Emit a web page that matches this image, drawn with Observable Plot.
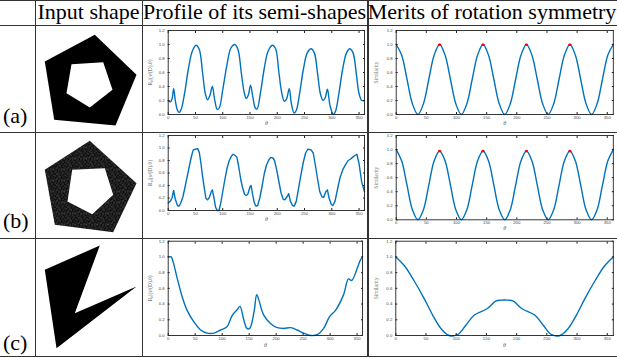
<!DOCTYPE html>
<html><head><meta charset="utf-8">
<script src="https://cdn.jsdelivr.net/npm/d3@7"></script>
<script src="https://cdn.jsdelivr.net/npm/@observablehq/plot@0.6"></script>
<style>
body{margin:0;background:#fff;}
#page{position:relative;width:617px;height:358px;overflow:hidden;font-family:"Liberation Serif","Times New Roman",serif;color:#000;}
.hl{position:absolute;left:0;width:617px;height:1.3px;background:#333;}
.vl{position:absolute;top:0;width:1.3px;height:357px;background:#333;}
.hdr{position:absolute;top:1px;font-size:22px;line-height:22px;white-space:nowrap;text-align:center;}
.lab{position:absolute;left:3px;font-size:22px;line-height:22px;}
.chart{position:absolute;}
.chart svg{overflow:visible;}
.chart [aria-label="x-axis label"] text{font-size:6px;font-style:italic;font-family:"Liberation Serif",serif;fill:#555;}
.chart [aria-label="y-axis label"] text{font-size:5.5px;font-family:"Liberation Serif",serif;fill:#777;}
</style></head>
<body>
<svg width="0" height="0" style="position:absolute">
 <defs>
  <pattern id="speckle" width="11" height="11" patternUnits="userSpaceOnUse">
   <rect width="11" height="11" fill="#0a0a0a"/>
   <g fill="#fff">
    <rect x="0.3" y="0.4" width="0.7" height="0.7"/>
    <rect x="3.1" y="1.1" width="0.6" height="0.6"/>
    <rect x="5.6" y="0.2" width="0.7" height="0.7"/>
    <rect x="8.2" y="0.9" width="0.6" height="0.6"/>
    <rect x="10.1" y="2.0" width="0.6" height="0.6"/>
    <rect x="1.7" y="2.6" width="0.6" height="0.6"/>
    <rect x="4.4" y="3.0" width="0.7" height="0.7"/>
    <rect x="7.0" y="2.7" width="0.6" height="0.6"/>
    <rect x="9.1" y="4.1" width="0.7" height="0.7"/>
    <rect x="0.2" y="4.6" width="0.7" height="0.7"/>
    <rect x="2.8" y="5.0" width="0.6" height="0.6"/>
    <rect x="5.9" y="5.3" width="0.6" height="0.6"/>
    <rect x="7.6" y="6.2" width="0.7" height="0.7"/>
    <rect x="10.3" y="6.7" width="0.6" height="0.6"/>
    <rect x="1.3" y="7.1" width="0.7" height="0.7"/>
    <rect x="4.1" y="7.6" width="0.6" height="0.6"/>
    <rect x="6.5" y="8.6" width="0.6" height="0.6"/>
    <rect x="9.0" y="8.9" width="0.7" height="0.7"/>
    <rect x="0.6" y="9.7" width="0.6" height="0.6"/>
    <rect x="3.0" y="9.9" width="0.7" height="0.7"/>
    <rect x="5.2" y="10.3" width="0.6" height="0.6"/>
    <rect x="8.1" y="10.4" width="0.5" height="0.5"/>
   </g>
   <g fill="#999">
    <rect x="2.2" y="0.1" width="0.5" height="0.5"/>
    <rect x="6.4" y="1.9" width="0.5" height="0.5"/>
    <rect x="8.6" y="3.2" width="0.5" height="0.5"/>
    <rect x="3.6" y="4.2" width="0.5" height="0.5"/>
    <rect x="0.8" y="6.0" width="0.5" height="0.5"/>
    <rect x="5.1" y="6.6" width="0.5" height="0.5"/>
    <rect x="9.9" y="8.0" width="0.5" height="0.5"/>
    <rect x="2.1" y="8.7" width="0.5" height="0.5"/>
    <rect x="7.3" y="9.6" width="0.5" height="0.5"/>
   </g>
  </pattern>
 </defs>
</svg>
<div id="page">
 <div class="hl" style="top:0"></div>
 <div class="hl" style="top:25px"></div>
 <div class="hl" style="top:132px"></div>
 <div class="hl" style="top:237.5px"></div>
 <div class="hl" style="top:356px"></div>
 <div class="vl" style="left:35px"></div>
 <div class="vl" style="left:141.5px"></div>
 <div class="vl" style="left:367px;width:1.8px"></div>
 <div class="hdr" style="left:35px;width:107px">Input shape</div>
 <div class="hdr" style="left:142px;width:225px">Profile of its semi-shapes</div>
 <div class="hdr" style="left:367px;width:250px">Merits of rotation symmetry</div>
 <div class="lab" style="top:105px">(a)</div>
 <div class="lab" style="top:210px">(b)</div>
 <div class="lab" style="top:332px">(c)</div>
 <div class="chart" id="shapes" style="left:36px;top:26px"></div>
 <div class="chart" id="pa"></div>
 <div class="chart" id="ma"></div>
 <div class="chart" id="pb"></div>
 <div class="chart" id="mb"></div>
 <div class="chart" id="pc"></div>
 <div class="chart" id="mc"></div>
</div>
<script>
// ---------- tick labels ----------
const xTicks = [0, 50, 100, 150, 200, 250, 300, 350];
const yTicks = [0, 0.2, 0.4, 0.6, 0.8, 1, 1.2];

// ---------- input shapes (vertices, cell units) ----------
const shapeA_outerX = [58.3, 100, 79, 17.7, 8.3, 58.3];
const shapeA_outerY = [8.3, 48.3, 99, 93.3, 35, 8.3];
const shapeA_innerX = [35, 66.7, 76, 53.3, 30, 35];
const shapeA_innerY = [37.7, 35.7, 63.3, 81, 66.7, 37.7];
const shapeB_outerX = [53.3, 100, 76.7, 18.3, 8.3, 53.3];
const shapeB_outerY = [114.3, 156.7, 205.7, 198.3, 143.3, 114.3];
const shapeB_innerX = [35.7, 68.3, 76.7, 55.7, 31, 35.7];
const shapeB_innerY = [143.3, 141.7, 168.3, 187.7, 175, 143.3];
const shapeC_X = [63.3, 38.3, 100, 20, 8.3, 63.3];
const shapeC_Y = [219, 286.7, 260, 321.7, 243.3, 219];

// ---------- (a) profile ----------
const profA_theta = [0,4,7,10,13,17,20,24,30,37,44,51,57,63,68,72,76,81,85,90,94,100,108,115,122,128,134,139,143,147,151,155,160,163,169,176,183,191,197,203,208,213,217,222,226,231,235,241,248,255,262,268,274,279,284,288,292,297,303,307,313,320,327,333,339,345,350,355,360];
const profA_value = [0.2,0.18,0.22,0.37,0.2,0.06,0.03,0.08,0.3,0.65,0.9,0.99,0.93,0.6,0.3,0.21,0.26,0.4,0.22,0.07,0.1,0.35,0.72,0.95,1.0,0.93,0.6,0.33,0.23,0.28,0.42,0.26,0.09,0.08,0.3,0.65,0.9,0.99,0.94,0.6,0.32,0.19,0.22,0.37,0.15,0.02,0.06,0.3,0.65,0.88,0.94,0.88,0.58,0.3,0.2,0.24,0.36,0.12,0.0,0.05,0.3,0.65,0.88,0.94,0.88,0.58,0.3,0.2,0.2];

// ---------- (a) merits ----------
const meritA_theta = [0,9,18,27,36,45,54,63,72,81,90,99,108,117,126,135,144,153,162,171,180,189,198,207,216,225,234,243,252,261,270,279,288,297,306,315,324,333,342,351,360];
const meritA_value = [1,0.85,0.5,0.15,0,0.15,0.5,0.85,1,0.85,0.5,0.15,0,0.15,0.5,0.85,1,0.85,0.5,0.15,0,0.15,0.5,0.85,1,0.85,0.5,0.15,0,0.15,0.5,0.85,1,0.85,0.5,0.15,0,0.15,0.5,0.85,1];
const meritA_peakTheta = [71, 72, 73, 143, 144, 145, 215, 216, 217, 287, 288, 289];
const meritA_peakValue = [0.995, 1, 0.995, 0.995, 1, 0.995, 0.995, 1, 0.995, 0.995, 1, 0.995];

// ---------- (b) profile ----------
const profB_theta = [0,4,7,10,13,17,20,23,27,31,35,39,43,46,50,54,57,60,63,66,69,72,75,79,81,84,87,90,93,96,100,104,108,112,116,119,123,126,129,133,136,140,143,146,150,152,155,158,161,164,168,172,176,180,184,188,192,195,199,203,207,211,214,218,221,224,228,231,235,239,243,248,252,256,262,266,270,274,278,282,285,289,292,295,299,302,306,310,315,320,325,330,334,338,342,346,350,355,360];
const profB_value = [0.12,0.15,0.2,0.32,0.18,0.08,0.07,0.12,0.22,0.38,0.55,0.72,0.88,0.97,0.98,0.99,0.93,0.76,0.55,0.37,0.2,0.17,0.2,0.3,0.33,0.2,0.05,0.0,0.0,0.1,0.3,0.5,0.68,0.8,0.87,0.9,0.88,0.85,0.72,0.5,0.38,0.26,0.24,0.26,0.38,0.4,0.25,0.12,0.07,0.08,0.2,0.38,0.58,0.72,0.8,0.85,0.84,0.8,0.65,0.46,0.28,0.18,0.17,0.22,0.27,0.15,0.08,0.07,0.15,0.35,0.55,0.78,0.92,0.98,0.97,0.92,0.72,0.5,0.3,0.22,0.21,0.3,0.33,0.2,0.1,0.08,0.15,0.32,0.52,0.65,0.73,0.8,0.82,0.85,0.88,0.9,0.75,0.45,0.3];

// ---------- (b) merits ----------
const meritB_theta = [0,9,18,27,36,45,54,63,72,81,90,99,108,117,126,135,144,153,162,171,180,189,198,207,216,225,234,243,252,261,270,279,288,297,306,315,324,333,342,351,360];
const meritB_value = [1,0.84,0.49,0.14,0,0.14,0.49,0.84,0.98,0.84,0.49,0.14,0,0.14,0.49,0.84,0.98,0.84,0.49,0.14,0,0.14,0.49,0.84,0.98,0.84,0.49,0.14,0,0.14,0.49,0.84,0.98,0.84,0.49,0.14,0,0.14,0.49,0.84,1];
const meritB_peakTheta = [71, 72, 73, 143, 144, 145, 215, 216, 217, 287, 288, 289];
const meritB_peakValue = [0.975, 0.98, 0.975, 0.975, 0.98, 0.975, 0.975, 0.98, 0.975, 0.975, 0.98, 0.975];

// ---------- (c) profile ----------
const profC_theta = [0,5.5,9,17,26,35,48,60,72,85,97,109,115,119,128,133,140,146,151,159,164,168,177,190,202,214,227,239,251,264,276,288,299,310,325,334,340,350,356,360];
const profC_value = [1.0,1.0,0.94,0.72,0.49,0.32,0.17,0.07,0.03,0.03,0.07,0.11,0.2,0.26,0.33,0.37,0.2,0.09,0.09,0.3,0.52,0.45,0.26,0.15,0.1,0.09,0.1,0.07,0.03,0.0,0.01,0.09,0.24,0.32,0.52,0.72,0.7,0.85,0.96,1.0];

// ---------- (c) merits ----------
const meritC_theta = [0,14,30,47,61,75,88,102,116,130,151,166,174,186,194,209,230,244,258,272,285,299,313,330,346,360];
const meritC_value = [1.0,0.89,0.7,0.47,0.26,0.085,0.0,0.01,0.13,0.26,0.34,0.44,0.45,0.45,0.44,0.34,0.26,0.13,0.01,0.0,0.085,0.26,0.47,0.7,0.89,1.0];

// ---------- helpers ----------
const zipRows = (xs, ys) => xs.map((x, i) => ({x, y: ys[i]}));

function drawChart(id, cfg) {
  const [cl, ct, cw, ch] = cfg.box;
  const [fl, ft, fr, fb] = cfg.frame;
  const el = document.getElementById(id);
  el.style.left = cl + "px";
  el.style.top = ct + "px";
  const marks = [
    Plot.line(zipRows(cfg.theta, cfg.value), {x: "x", y: "y", stroke: "#0072BD", strokeWidth: 1.4, curve: cfg.curve || "catmull-rom"}),
    Plot.frame({stroke: "#222", strokeWidth: 0.9}),
    Plot.axisX({ticks: xTicks, tickSize: -2, tickPadding: 3.5, stroke: "#222", fill: "#444",
      label: "θ", labelAnchor: "center", labelArrow: "none", labelOffset: cfg.xLabelOffset}),
    Plot.axisX({anchor: "top", ticks: xTicks, tickSize: -2, tickFormat: () => "", label: null, stroke: "#222"}),
    Plot.axisY({ticks: yTicks, tickSize: -2, tickPadding: 5.5, stroke: "#222", fill: "#444",
      label: cfg.ylabel, labelAnchor: "center", labelArrow: "none", labelOffset: cfg.yLabelOffset}),
    Plot.axisY({anchor: "right", ticks: yTicks, tickSize: -2, tickFormat: () => "", label: null, stroke: "#222"})
  ];
  if (cfg.peakTheta) {
    marks.push(Plot.dot(zipRows(cfg.peakTheta, cfg.peakValue), {x: "x", y: "y", fill: "#ff0000", stroke: "none", r: 1.1}));
  }
  const svg = Plot.plot({
    width: cw, height: ch,
    marginLeft: fl - cl, marginTop: ft - ct, marginRight: cl + cw - fr, marginBottom: ct + ch - fb,
    x: {domain: [0, 360]},
    y: {domain: [0, 1.2]},
    style: {fontSize: "4.3px", fontFamily: "'Liberation Sans', Arial, sans-serif", background: "transparent", overflow: "visible"},
    marks
  });
  el.appendChild(svg);
}

const profLabel = "Rₚ|(sᵈ(D),θ)";

drawChart("pa", {box: [143, 26, 223, 104], frame: [167.7, 30, 364, 114], theta: profA_theta, value: profA_value, ylabel: profLabel, xLabelOffset: 10, yLabelOffset: 20});
drawChart("ma", {box: [369, 26, 247, 104], frame: [395.7, 30, 612.8, 114], theta: meritA_theta, value: meritA_value, peakTheta: meritA_peakTheta, peakValue: meritA_peakValue, ylabel: "Similarity", xLabelOffset: 10, yLabelOffset: 22});
drawChart("pb", {box: [143, 133, 223, 94], frame: [167.7, 135, 364, 210], theta: profB_theta, value: profB_value, curve: "linear", ylabel: profLabel, xLabelOffset: 10, yLabelOffset: 20});
drawChart("mb", {box: [369, 133, 247, 103], frame: [395.7, 135, 612.8, 219.3], theta: meritB_theta, value: meritB_value, peakTheta: meritB_peakTheta, peakValue: meritB_peakValue, ylabel: "Similarity", xLabelOffset: 10, yLabelOffset: 22});
drawChart("pc", {box: [143, 239, 223, 117], frame: [167.7, 240.7, 362, 335], theta: profC_theta, value: profC_value, ylabel: profLabel, xLabelOffset: 11, yLabelOffset: 20});
drawChart("mc", {box: [369, 239, 247, 117], frame: [395.3, 240.7, 612.8, 335], theta: meritC_theta, value: meritC_value, ylabel: "Similarity", xLabelOffset: 11, yLabelOffset: 22});

// ---------- shapes ----------
const shapeRows = [
  ...zipRows(shapeA_outerX, shapeA_outerY).map(d => ({...d, k: "a-out"})),
  ...zipRows(shapeA_innerX, shapeA_innerY).map(d => ({...d, k: "a-in"})),
  ...zipRows(shapeB_outerX, shapeB_outerY).map(d => ({...d, k: "b-out"})),
  ...zipRows(shapeB_innerX, shapeB_innerY).map(d => ({...d, k: "b-in"})),
  ...zipRows(shapeC_X, shapeC_Y).map(d => ({...d, k: "c"}))
];
const shapeFill = {"a-out": "#000", "a-in": "#fff", "b-out": "url(#speckle)", "b-in": "#fff", "c": "#000"};
const shapesSvg = Plot.plot({
  width: 105, height: 330, margin: 0,
  x: {domain: [0, 105], range: [0, 105]},
  y: {domain: [0, 330], range: [0, 330]},
  axis: null,
  style: {background: "transparent"},
  marks: Object.keys(shapeFill).map(k =>
    Plot.line(shapeRows.filter(d => d.k === k), {x: "x", y: "y", fill: shapeFill[k], stroke: "none", curve: "linear-closed"})
  )
});
document.getElementById("shapes").appendChild(shapesSvg);
</script>
</body></html>
